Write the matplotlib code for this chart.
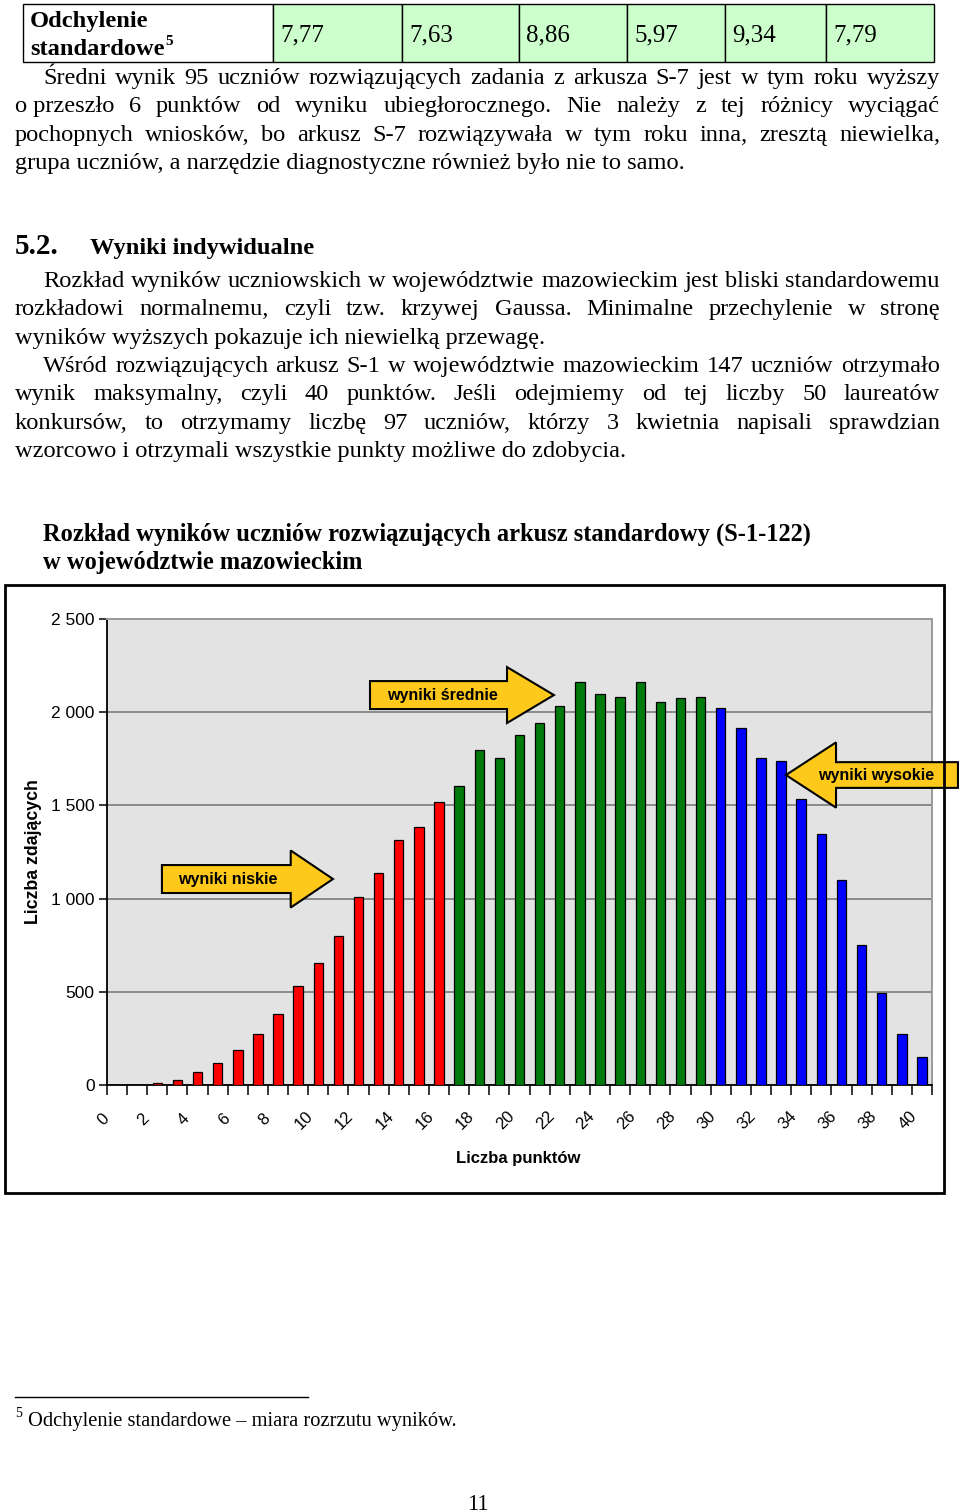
import matplotlib
matplotlib.use('Agg')
import matplotlib.pyplot as plt
from matplotlib.patches import Rectangle, Polygon
from matplotlib.lines import Line2D
import matplotlib.transforms as mtransforms
import numpy as np

# ---------------- data ----------------
points = list(range(41))
counts = [0, 1, 11, 27, 72, 116, 186, 273, 381, 531, 656, 797, 1010, 1135, 1312,
          1382, 1516, 1603, 1798, 1755, 1879, 1941, 2031, 2163, 2100, 2083, 2163,
          2056, 2074, 2083, 2020, 1915, 1755, 1738, 1534, 1348, 1099, 753, 495,
          273, 150]
group_names = ['wyniki niskie', 'wyniki średnie', 'wyniki wysokie']
group_ranges = [(0, 16), (17, 29), (30, 40)]
group_colors = ['#ff0000', '#007a0a', '#0000ff']
y_ticks = [0, 500, 1000, 1500, 2000, 2500]
y_ticklabels = ['0', '500', '1 000', '1 500', '2 000', '2 500']
x_labels = [str(p) for p in range(0, 41, 2)]
std_values = ['7,77', '7,63', '8,86', '5,97', '9,34', '7,79']

chart_title = ['Rozkład wyników uczniów rozwiązujących arkusz standardowy (S-1-122)',
               'w województwie mazowieckim']
para1 = ['Średni wynik 95 uczniów rozwiązujących zadania z arkusza S-7 jest w tym roku wyższy',
         'o\u00a0przeszło 6 punktów od wyniku ubiegłorocznego. Nie należy z tej różnicy wyciągać',
         'pochopnych wniosków, bo arkusz S-7 rozwiązywała w tym roku inna, zresztą niewielka,',
         'grupa uczniów, a narzędzie diagnostyczne również było nie to samo.']
para2 = ['Rozkład wyników uczniowskich w województwie mazowieckim jest bliski standardowemu',
         'rozkładowi normalnemu, czyli tzw. krzywej Gaussa. Minimalne przechylenie w stronę',
         'wyników wyższych pokazuje ich niewielką przewagę.']
para3 = ['Wśród rozwiązujących arkusz S-1 w województwie mazowieckim 147 uczniów otrzymało',
         'wynik maksymalny, czyli 40 punktów. Jeśli odejmiemy od tej liczby 50 laureatów',
         'konkursów, to otrzymamy liczbę 97 uczniów, którzy 3 kwietnia napisali sprawdzian',
         'wzorcowo i otrzymali wszystkie punkty możliwe do zdobycia.']

# ---------------- figure ----------------
W, H = 960, 1512
fig = plt.figure(figsize=(W / 100, H / 100), dpi=100)
fig.patch.set_facecolor('white')
renderer = fig.canvas.get_renderer()

SERIF = 'Liberation Serif'
SANS = 'Liberation Sans'


def fx(px):
    return px / W


def fy(py):
    return 1 - py / H


def measure(s, **kw):
    t = fig.text(0, 0, s, **kw)
    w = t.get_window_extent(renderer).width
    t.remove()
    return w


def text_line(s, x0, x1, yb, justify=True, **kw):
    words = s.split(' ')
    if not justify or len(words) < 2:
        fig.text(fx(x0), fy(yb), s, ha='left', va='baseline', **kw)
        return
    widths = [measure(w, **kw) for w in words]
    gap = (x1 - x0 - sum(widths)) / (len(words) - 1)
    x = x0
    for w, wd in zip(words, widths):
        fig.text(fx(x), fy(yb), w, ha='left', va='baseline', **kw)
        x += wd + gap


BODY = dict(family=SERIF, fontsize=17.6, color='black')


def paragraph(lines, y0, step=28.3):
    for i, ln in enumerate(lines):
        x0 = 43 if i == 0 else 15
        last = (i == len(lines) - 1)
        text_line(ln, x0, 940, y0 + i * step, justify=not last, **BODY)


# ---------------- table ----------------
col_edges = [23, 273, 402, 519, 627, 725, 826, 934]
t_top, t_bot = 4, 62
for i in range(len(col_edges) - 1):
    fc = 'white' if i == 0 else '#ccffcc'
    fig.add_artist(Rectangle((fx(col_edges[i]), fy(t_bot)),
                             (col_edges[i + 1] - col_edges[i]) / W, (t_bot - t_top) / H,
                             transform=fig.transFigure, facecolor=fc,
                             edgecolor='black', linewidth=1.0))
TB = dict(family=SERIF, fontsize=17.6, fontweight='bold')
fig.text(fx(30), fy(27), 'Odchylenie', ha='left', va='baseline', **TB)
fig.text(fx(30), fy(55), 'standardowe', ha='left', va='baseline', **TB)
sw = measure('standardowe', **TB)
fig.text(fx(30 + sw + 1), fy(45), '5', family=SERIF, fontsize=11,
         fontweight='bold', ha='left', va='baseline')
for i, v in enumerate(std_values):
    fig.text(fx(col_edges[i + 1] + 7), fy(41), v, family=SERIF, fontsize=18,
             ha='left', va='baseline')

# ---------------- paragraphs ----------------
paragraph(para1, 84)
fig.text(fx(15), fy(254), '5.2.', family=SERIF, fontsize=21,
         fontweight='bold', ha='left', va='baseline')
fig.text(fx(90), fy(254), 'Wyniki indywidualne', family=SERIF, fontsize=17.6,
         fontweight='bold', ha='left', va='baseline')
paragraph(para2, 287)
paragraph(para3, 372)

# chart title
fig.text(fx(43), fy(541), chart_title[0], family=SERIF, fontsize=17.65,
         fontweight='bold', ha='left', va='baseline')
fig.text(fx(43), fy(569), chart_title[1], family=SERIF, fontsize=17.65,
         fontweight='bold', ha='left', va='baseline')

# chart frame
fig.add_artist(Rectangle((fx(5), fy(1193)), (944 - 5) / W, (1193 - 585) / H,
                         transform=fig.transFigure, fill=False,
                         edgecolor='black', linewidth=2.0))

# ---------------- axes ----------------
ax = fig.add_axes([fx(107), fy(1085), 825 / W, 466 / H])
ax.set_facecolor('#e3e3e3')
bar_colors = []
for p in points:
    for (a, b), c in zip(group_ranges, group_colors):
        if a <= p <= b:
            bar_colors.append(c)
ax.bar(points, counts, width=0.47, color=bar_colors, edgecolor='black',
       linewidth=0.9, zorder=3)
ax.set_xlim(-0.5, 40.5)
ax.set_ylim(0, 2500)
ax.set_yticks(y_ticks)
ax.set_yticklabels(y_ticklabels, family=SANS, fontsize=12.5)
ax.yaxis.grid(True, color='#8a8a8a', linewidth=1.4, zorder=0)
ax.set_axisbelow(True)
ax.set_xticks(np.arange(-0.5, 41, 1))
ax.set_xticklabels([])
ax.tick_params(axis='x', direction='out', length=7, width=1.1, color='black')
ax.tick_params(axis='y', direction='out', length=6, width=1.1, color='black', pad=3)
for s in ['left', 'bottom']:
    ax.spines[s].set_color('black')
    ax.spines[s].set_linewidth(1.3)
for s in ['top', 'right']:
    ax.spines[s].set_color('#9a9a9a')
    ax.spines[s].set_linewidth(1.4)

offset = mtransforms.ScaledTranslation(-14 / 100, -35 / 100, fig.dpi_scale_trans)
xtr = ax.get_xaxis_transform() + offset
for lab in x_labels:
    ax.text(int(lab), 0, lab, transform=xtr, rotation=45, ha='center', va='center',
            family=SANS, fontsize=12, clip_on=False)

fig.text(fx(518), fy(1158), 'Liczba punktów', family=SANS, fontsize=12,
         fontweight='bold', ha='center', va='center')
fig.text(fx(33), fy(852), 'Liczba zdających', family=SANS, fontsize=12.8,
         fontweight='bold', rotation=90, ha='center', va='center')


# arrows (annotations anchored in data coordinates)
def arrow(x_tail, x_base, x_tip, yc, bh, hh, label, x_text):
    pts = [(x_tail, yc - bh), (x_base, yc - bh), (x_base, yc - hh), (x_tip, yc),
           (x_base, yc + hh), (x_base, yc + bh), (x_tail, yc + bh)]
    ax.add_patch(Polygon(pts, closed=True, facecolor='#fec91a', edgecolor='black',
                         linewidth=1.5, zorder=5, clip_on=False))
    ax.text(x_text, yc, label, ha='center', va='center', family=SANS, fontsize=11.5,
            fontweight='bold', zorder=6, clip_on=False)


arrow(2.23, 8.63, 10.73, 1105, 75, 153, group_names[0], 5.5)
arrow(12.57, 19.38, 21.71, 2092, 75, 150, group_names[1], 16.15)
arrow(41.79, 35.73, 33.24, 1663, 69, 175, group_names[2], 37.7)

# ---------------- footnote & page number ----------------
fig.add_artist(Line2D([fx(15), fx(308)], [fy(1397), fy(1397)], color='black',
                      linewidth=1.0, transform=fig.transFigure))
fig.text(fx(15), fy(1417), '5', family=SERIF, fontsize=10, ha='left', va='baseline')
fig.text(fx(28), fy(1426), 'Odchylenie standardowe – miara rozrzutu wyników.',
         family=SERIF, fontsize=14.8, ha='left', va='baseline')
fig.text(fx(478), fy(1510), '11', family=SERIF, fontsize=16.5, ha='center',
         va='baseline')

fig.savefig('out.png', dpi=100, facecolor='white')
